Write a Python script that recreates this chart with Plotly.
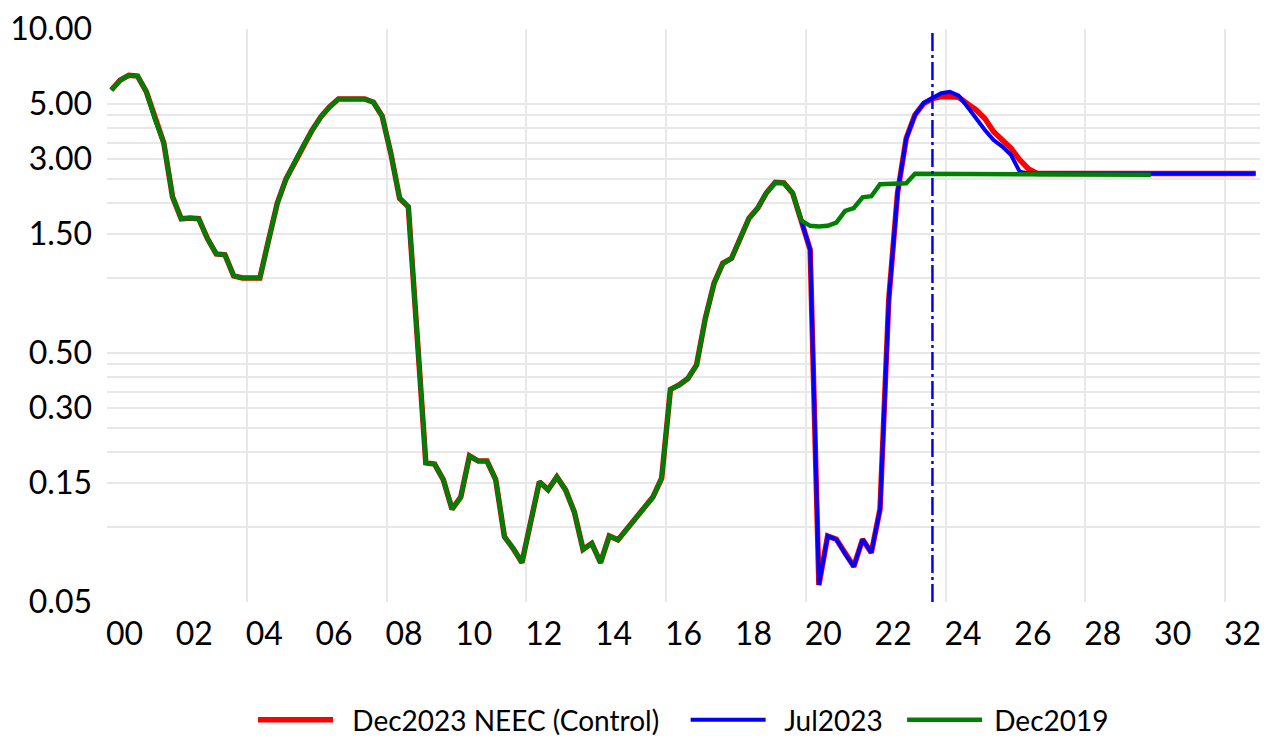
import math
import plotly.graph_objects as go

# ---------------- data (quarterly, 2000Q1 ... 2032Q4) ----------------
first_year = 2000
last_year = 2032
quarters = [f"{y}Q{q}" for y in range(first_year, last_year + 1) for q in range(1, 5)]

# shared history 2000Q1 .. 2019Q3 (identical in all three vintages)
history = [
    5.69, 6.23, 6.52, 6.47, 5.60, 4.34, 3.49, 2.12,   # 2000-2001
    1.73, 1.74, 1.73, 1.44, 1.25, 1.24, 1.02, 1.00,   # 2002-2003
    1.00, 1.00, 1.42, 2.00, 2.50, 2.93, 3.42, 3.93,   # 2004-2005
    4.45, 4.88, 5.24, 5.24, 5.24, 5.24, 5.08, 4.47,   # 2006-2007
    3.16, 2.09, 1.93, 0.55, 0.181, 0.179, 0.155, 0.118,   # 2008-2009
    0.132, 0.193, 0.184, 0.184, 0.155, 0.0914, 0.082, 0.072,  # 2010-2011
    0.105, 0.152, 0.141, 0.159, 0.141, 0.115, 0.0813, 0.086,  # 2012-2013
    0.072, 0.092, 0.0888, 0.098, 0.107, 0.119, 0.132, 0.157,  # 2014-2015
    0.357, 0.372, 0.395, 0.448, 0.689, 0.953, 1.146, 1.20,    # 2016-2017
    1.44, 1.74, 1.91, 2.20, 2.42, 2.41, 2.19,                 # 2018-2019Q3
]

# Dec2023 NEEC (Control): 2019Q4 .. 2032Q4
red_tail = [
    1.68,                                                     # 2019Q4
    1.30, 0.0585, 0.092, 0.0893, 0.078, 0.0694, 0.0893, 0.0789,  # 2020-2021
    0.118, 0.82, 2.19, 3.64, 4.52, 5.02, 5.25, 5.35,          # 2022-2023
    5.35, 5.32, 5.01, 4.73, 4.37, 3.87, 3.58, 3.32,           # 2024-2025
    2.98, 2.74, 2.63, 2.63, 2.63, 2.63, 2.63, 2.63,           # 2026-2027
    2.63, 2.63, 2.63, 2.63, 2.63, 2.63, 2.63, 2.63,           # 2028-2029
    2.63, 2.63, 2.63, 2.63, 2.63, 2.63, 2.63, 2.63,           # 2030-2031
    2.63, 2.63, 2.63, 2.63,                                   # 2032
]

# Jul2023: 2019Q4 .. 2032Q4
blue_tail = [
    1.68,
    1.30, 0.0585, 0.092, 0.0893, 0.078, 0.0694, 0.0893, 0.0789,
    0.118, 0.82, 2.19, 3.64, 4.52, 5.05, 5.30, 5.52,
    5.60, 5.40, 4.87, 4.37, 3.93, 3.58, 3.37, 3.12,
    2.67, 2.63, 2.63, 2.63, 2.63, 2.63, 2.63, 2.63,
    2.63, 2.63, 2.63, 2.63, 2.63, 2.63, 2.63, 2.63,
    2.63, 2.63, 2.63, 2.63, 2.63, 2.63, 2.63, 2.63,
    2.63, 2.63, 2.63, 2.63,
]

# Dec2019: 2019Q4 .. 2029Q4
green_tail = [
    1.70,
    1.62, 1.61, 1.62, 1.67, 1.86, 1.91, 2.11, 2.13,
    2.38, 2.38, 2.38, 2.40, 2.62, 2.62, 2.62, 2.62,
    2.62, 2.62, 2.62, 2.62, 2.62, 2.61, 2.61, 2.61,
    2.61, 2.61, 2.61, 2.61, 2.61, 2.61, 2.61, 2.60,
    2.60, 2.60, 2.60, 2.60, 2.60, 2.60, 2.60, 2.60,
]

red_vals = history + red_tail
blue_vals = history + blue_tail
green_vals = history + green_tail

series_names = ["Dec2023 NEEC (Control)", "Jul2023", "Dec2019"]
series_colors = ["#ff0000", "#0000ff", "#008000"]

marker_quarter = "2023Q3"   # vertical reference line

x_tick_years = list(range(0, 33, 2))
x_tick_labels = [f"{y:02d}" for y in x_tick_years]
x_grid_years = list(range(4, 33, 4))

y_labeled = [0.05, 0.15, 0.30, 0.50, 1.50, 3.00, 5.00, 10.00]
y_grid = [0.10, 0.15, 0.20, 0.25, 0.30, 0.35, 0.40, 0.45, 0.50,
          1.0, 1.5, 2.0, 2.5, 3.0, 3.5, 4.0, 4.5, 5.0, 10.0]


def q_to_x(label):
    y, q = label.split("Q")
    return int(y) - first_year + (int(q) - 0.5) / 4.0


FONT = "Lato, Carlito, Calibri, sans-serif"

fig = go.Figure()
widths = [5.5, 4.0, 4.5]
# spacing around legend labels (swatch gap before, item gap after)
legend_labels = ["  " + series_names[0] + "   ",
                 "  " + series_names[1] + "  ",
                 " " + series_names[2]]
for name, label, color, vals, w in zip(series_names, legend_labels, series_colors,
                                       [red_vals, blue_vals, green_vals], widths):
    fig.add_trace(go.Scatter(
        x=[q_to_x(q) for q in quarters[:len(vals)]],
        y=vals,
        mode="lines",
        name=label,
        hovertemplate=name + ": %{y:.2f}<extra></extra>",
        line=dict(color=color, width=w),
    ))

xv = q_to_x(marker_quarter)
fig.add_shape(type="line", xref="x", yref="paper", x0=xv, x1=xv, y0=0, y1=1,
              line=dict(color="#0000ff", width=2.5, dash="18px,4px,3px,4px"),
              layer="above")

y_ticks = sorted(set(y_grid + y_labeled))
y_text = [f"{v:.2f}" if any(abs(v - l) < 1e-9 for l in y_labeled) else "" for v in y_ticks]

fig.update_layout(
    width=1268, height=738,
    margin=dict(l=99, r=16, t=21, b=144, autoexpand=False),
    plot_bgcolor="white", paper_bgcolor="white",
    font=dict(family=FONT, color="black"),
    showlegend=True,
    legend=dict(orientation="h", x=0.5, xanchor="center",
                xref="paper", yref="container", y=0.035, yanchor="middle",
                font=dict(size=28, family=FONT, color="black"),
                itemwidth=75, traceorder="normal"),
    xaxis=dict(
        range=[0, 33],
        automargin=False,
        tickmode="array",
        tickvals=[y + 0.5 for y in x_tick_years],
        ticktext=x_tick_labels,
        showgrid=False,
        zeroline=False,
        showline=True, linecolor="white", linewidth=3,
        ticks="",
        ticklabelstandoff=2,
        tickfont=dict(size=32, family=FONT, color="black"),
        minor=dict(tickmode="array", tickvals=x_grid_years, showgrid=True,
                   gridcolor="#e8e8e8", gridwidth=1.5, ticks=""),
    ),
    yaxis=dict(
        type="log",
        automargin=False,
        range=[math.log10(0.05), 1],
        tickmode="array",
        tickvals=y_ticks,
        ticktext=y_text,
        showgrid=True,
        gridcolor="#e8e8e8", gridwidth=1.5,
        zeroline=False,
        ticks="",
        ticklabelstandoff=14,
        tickfont=dict(size=32, family=FONT, color="black"),
    ),
)

fig.write_html("out.html")
